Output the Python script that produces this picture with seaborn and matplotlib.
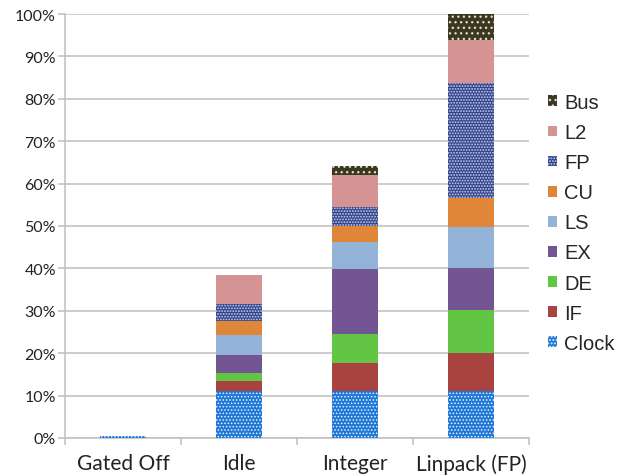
import numpy as np
import pandas as pd
import matplotlib
matplotlib.use("Agg")
import matplotlib.pyplot as plt
from matplotlib.patches import Patch
from matplotlib.ticker import FixedLocator, PercentFormatter
import seaborn as sns

# Workloads and the per-unit power breakdown (% of peak)
workloads = ["Gated Off", "Idle", "Integer", "Linpack (FP)"]
units = ["Clock", "IF", "DE", "EX", "LS", "CU", "FP", "L2", "Bus"]

clock = [0.5, 11.1, 11.0, 11.2]
fetch = [0.0, 2.3, 6.6, 8.8]
decode = [0.0, 1.9, 6.9, 10.2]
execute = [0.0, 4.3, 15.4, 9.8]
loadstore = [0.0, 4.7, 6.4, 9.7]
cu = [0.0, 3.4, 3.8, 6.8]
fp = [0.0, 3.9, 4.3, 27.2]
l2 = [0.0, 6.9, 7.7, 10.2]
bus = [0.0, 0.0, 2.1, 6.1]

series = [clock, fetch, decode, execute, loadstore, cu, fp, l2, bus]

# Fill colour, hatch pattern, hatch colour and hatch width for each unit
styles = {
    "Clock": ("#1f78d6", ".....", "#e8f2ff", 0.7),
    "IF": ("#a8433f", None, None, None),
    "DE": ("#63c544", None, None, None),
    "EX": ("#735594", None, None, None),
    "LS": ("#94b3d9", None, None, None),
    "CU": ("#df8639", None, None, None),
    "FP": ("#31428a", "......", "#c9d1ee", 0.9),
    "L2": ("#d59394", None, None, None),
    "Bus": ("#3a3825", "...", "#e8e3b8", 0.9),
}


def style_patch(p, unit):
    face, hatch, hcol, hlw = styles[unit]
    p.set_facecolor(face)
    p.set_linewidth(0)
    if hatch:
        p.set_hatch(hatch)
        p.set_edgecolor(hcol)
        if hasattr(p, "set_hatch_linewidth"):
            p.set_hatch_linewidth(hlw)
    else:
        p.set_edgecolor(face)


df = pd.DataFrame({u: v for u, v in zip(units, series)}, index=workloads)
cum = df.cumsum(axis=1)

sns.set_style("white")
plt.rcParams["hatch.linewidth"] = 0.9

fig = plt.figure(figsize=(6.28, 4.77), dpi=100)
ax = fig.add_axes([65 / 628, 1 - 439 / 477, (529 - 65) / 628, (439 - 15) / 477])

# Draw cumulative totals from the top layer down so each segment covers the one above
for unit in reversed(units):
    data = pd.DataFrame({"workload": workloads, "value": cum[unit].values})
    n_before = len(ax.patches)
    sns.barplot(data=data, x="workload", y="value", order=workloads,
                color=styles[unit][0], saturation=1, width=0.4, ax=ax, zorder=3)
    for p in ax.patches[n_before:]:
        style_patch(p, unit)

ax.set_ylim(0, 100)
ax.set_xlim(-0.5, 3.5)
ax.yaxis.set_major_locator(FixedLocator(np.arange(0, 101, 10)))
ax.yaxis.set_major_formatter(PercentFormatter(decimals=0))
ax.grid(axis="y", color="#bfbfbf", linewidth=1.1, zorder=0)
ax.set_axisbelow(True)
ax.set_xlabel("")
ax.set_ylabel("")

for side in ["top", "right"]:
    ax.spines[side].set_visible(False)
for side in ["left", "bottom"]:
    ax.spines[side].set_color("#bfbfbf")
    ax.spines[side].set_linewidth(1.1)

ax.xaxis.set_minor_locator(FixedLocator([-0.5, 0.5, 1.5, 2.5, 3.5]))
ax.tick_params(axis="x", which="major", length=0, pad=11, labelsize=15)
ax.tick_params(axis="x", which="minor", bottom=True, length=5, color="#bfbfbf", width=1.1)
ax.tick_params(axis="y", left=True, length=5, color="#bfbfbf", width=1.1, labelsize=11.5, pad=1.5)
for lab in ax.get_xticklabels() + ax.get_yticklabels():
    lab.set_family("Lato")
    lab.set_color("#222222")

handles = []
for unit in reversed(units):
    h = Patch(label=unit)
    style_patch(h, unit)
    handles.append(h)

fig.legend(handles=handles, loc="upper left", bbox_to_anchor=(540 / 628, 1 - 86 / 477),
           frameon=False, prop={"family": "Liberation Sans", "size": 14.5},
           handlelength=0.45, handleheight=0.45, handletextpad=0.35, labelspacing=0.55,
           borderaxespad=0)

fig.savefig("out.png", dpi=100)
